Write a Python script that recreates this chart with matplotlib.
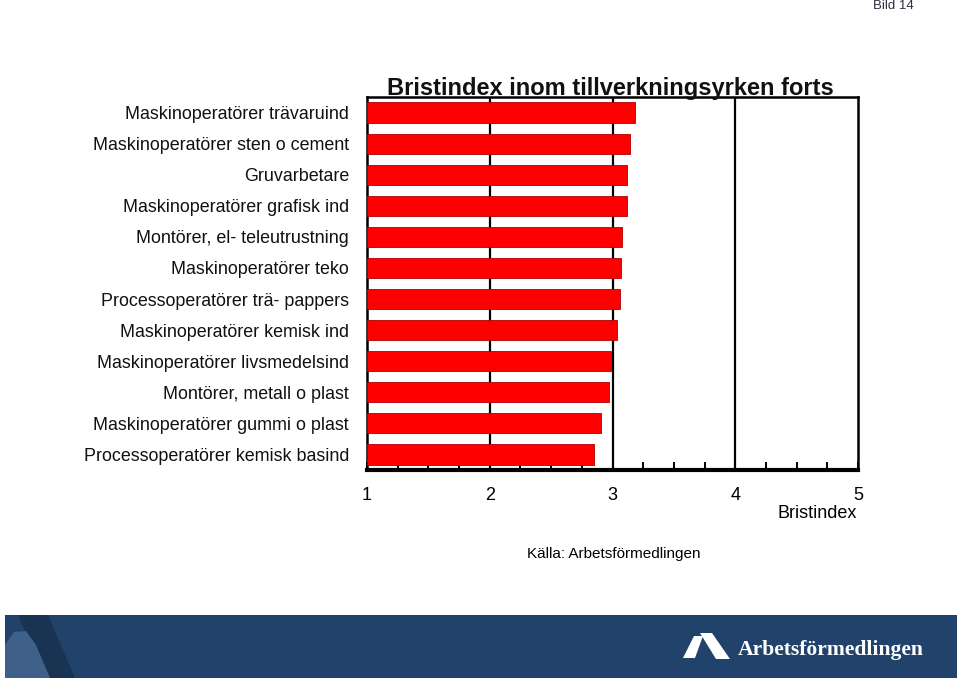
import numpy as np
import matplotlib.pyplot as plt
from matplotlib.patches import Rectangle, Polygon

plt.rcParams['font.family'] = ['Liberation Sans', 'DejaVu Sans']

# data (top to bottom as shown)
yrken = ['Maskinoperatörer trävaruind', 'Maskinoperatörer sten o cement',
         'Gruvarbetare', 'Maskinoperatörer grafisk ind',
         'Montörer, el- teleutrustning', 'Maskinoperatörer teko',
         'Processoperatörer trä- pappers', 'Maskinoperatörer kemisk ind',
         'Maskinoperatörer livsmedelsind', 'Montörer, metall o plast',
         'Maskinoperatörer gummi o plast', 'Processoperatörer kemisk basind']
bristindex = [3.18, 3.14, 3.12, 3.12, 3.08, 3.07, 3.06, 3.04, 2.99, 2.97, 2.91, 2.85]
xticks = [1, 2, 3, 4, 5]

W, H = 960, 681
fig = plt.figure(figsize=(W / 100, H / 100), dpi=100)

ax = fig.add_axes([367 / W, 1 - 470 / H, (858 - 367) / W, (470 - 97) / H])
y = np.arange(len(yrken))
ax.barh(y, np.array(bristindex) - 1, left=1, height=0.65, color='#ff0000',
        edgecolor='#b00000', linewidth=0.6, zorder=3)
ax.set_xlim(1, 5)
ax.set_ylim(len(yrken) - 0.5, -0.5)
for g in [2, 3, 4]:
    ax.axvline(g, color='black', lw=1.6, zorder=2)
for s in ax.spines.values():
    s.set_linewidth(1.8)
ax.spines['bottom'].set_linewidth(3)
ax.set_yticks(y)
ax.set_yticklabels(yrken, fontsize=12.9, color='#111111')
ax.tick_params(axis='y', length=0, pad=13)
ax.set_xticks(xticks)
ax.set_xticklabels([str(t) for t in xticks], fontsize=13)
ax.set_xticks(np.arange(1, 5.01, 0.25), minor=True)
ax.tick_params(axis='x', which='both', direction='in', length=6, width=1.4, pad=12)

fig.text(610 / W, 1 - 88 / H, 'Bristindex inom tillverkningsyrken forts',
         ha='center', va='center', fontsize=17, fontweight='bold', color='#111111')
fig.text(857 / W, 1 - 513 / H, 'Bristindex', ha='right', va='center', fontsize=13)
fig.text(614 / W, 1 - 554 / H, 'Källa: Arbetsförmedlingen', ha='center',
         va='center', fontsize=11)
fig.text(893 / W, 1 - 6 / H, 'Bild 14', ha='center', va='center', fontsize=9.5,
         color='#2a3040')

# bottom banner
def px(xp, yp):
    return (xp / W, 1 - yp / H)

fig.patches.append(Rectangle(px(5, 678), 952 / W, 63 / H, transform=fig.transFigure,
                             facecolor='#21426a', edgecolor='none'))
fig.patches.append(Polygon([px(18, 615), px(48, 615), px(75, 678), px(45, 678)],
                           closed=True, transform=fig.transFigure,
                           facecolor='#1a3353', edgecolor='none'))
fig.patches.append(Polygon([px(5, 645), px(14, 632), px(26, 631), px(36, 645),
                            px(50, 678), px(5, 678)],
                           closed=True, transform=fig.transFigure,
                           facecolor='#3f6088', edgecolor='none'))
# logo mark
fig.patches.append(Polygon([px(683, 658), px(694, 636), px(703, 636), px(695, 658)],
                           closed=True, transform=fig.transFigure,
                           facecolor='white', edgecolor='none'))
fig.patches.append(Polygon([px(700, 633), px(712, 633), px(730, 659), px(716, 659)],
                           closed=True, transform=fig.transFigure,
                           facecolor='white', edgecolor='none'))
fig.text(738 / W, 1 - 650 / H, 'Arbetsförmedlingen', ha='left', va='center',
         fontsize=15.6, fontweight='bold', color='white', family='Liberation Serif')

fig.savefig('out.png', dpi=100)
